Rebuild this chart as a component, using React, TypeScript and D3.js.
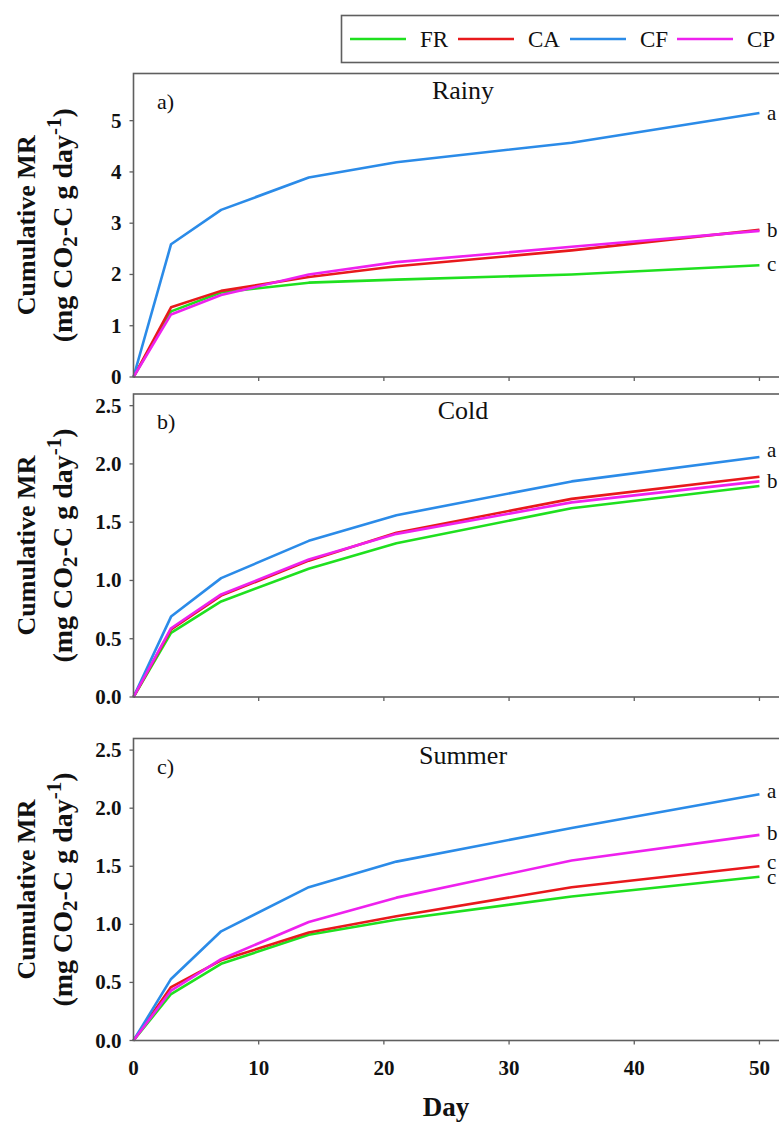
import React from "react";
import * as d3 from "d3";

const days = [0, 3, 7, 14, 21, 35, 50];
const seriesNames = ["FR", "CA", "CF", "CP"];
const seriesColors = ["#1fe01f", "#e8191c", "#2b8be8", "#ee21ee"];

// Rainy
const rainyFR = [0, 1.28, 1.65, 1.84, 1.9, 2.0, 2.18];
const rainyCA = [0, 1.36, 1.68, 1.95, 2.16, 2.47, 2.87];
const rainyCF = [0, 2.59, 3.26, 3.89, 4.19, 4.57, 5.15];
const rainyCP = [0, 1.22, 1.6, 2.0, 2.24, 2.54, 2.85];
// Cold
const coldFR = [0, 0.55, 0.82, 1.1, 1.32, 1.62, 1.81];
const coldCA = [0, 0.58, 0.87, 1.17, 1.41, 1.7, 1.89];
const coldCF = [0, 0.69, 1.02, 1.34, 1.56, 1.85, 2.06];
const coldCP = [0, 0.59, 0.88, 1.18, 1.4, 1.67, 1.85];
// Summer
const summerFR = [0, 0.4, 0.66, 0.91, 1.04, 1.24, 1.41];
const summerCA = [0, 0.46, 0.69, 0.93, 1.07, 1.32, 1.5];
const summerCF = [0, 0.53, 0.94, 1.32, 1.54, 1.83, 2.12];
const summerCP = [0, 0.43, 0.7, 1.02, 1.23, 1.55, 1.77];

const panelTitles = ["Rainy", "Cold", "Summer"];
const panelLetters = ["a)", "b)", "c)"];
const yMaxes = [5.92, 2.6, 2.6];
const yTicksA = [0, 1, 2, 3, 4, 5];
const yTicksBC = [0, 0.5, 1.0, 1.5, 2.0, 2.5];
const xTicks = [0, 10, 20, 30, 40, 50];

const sigLettersA = ["a", "b", "c"];
const sigValuesA = [5.15, 2.86, 2.2];
const sigLettersB = ["a", "b"];
const sigValuesB = [2.12, 1.85];
const sigLettersC = ["a", "b", "c", "c"];
const sigValuesC = [2.15, 1.79, 1.54, 1.41];

const panelData = [
  [rainyFR, rainyCA, rainyCF, rainyCP],
  [coldFR, coldCA, coldCF, coldCP],
  [summerFR, summerCA, summerCF, summerCP],
];
const panelSig = [
  [sigLettersA, sigValuesA],
  [sigLettersB, sigValuesB],
  [sigLettersC, sigValuesC],
];

const W = 779;
const H = 1122;
const plotLeft = 133.5;
const plotRight = 792;
const panelTops = [73.5, 394, 738.5];
const panelBottoms = [377, 697, 1040.5];
const frameColor = "#5f5f5f";
const serif = "'Liberation Serif', 'Times New Roman', serif";

const x = d3.scaleLinear().domain([0, 52.6]).range([plotLeft, plotRight]);

function Panel({ idx }: { idx: number }) {
  const top = panelTops[idx];
  const bottom = panelBottoms[idx];
  const y = d3.scaleLinear().domain([0, yMaxes[idx]]).range([bottom, top]);
  const ticks = idx === 0 ? yTicksA : yTicksBC;
  const fmt = idx === 0 ? d3.format("d") : d3.format(".1f");
  const line = d3
    .line<number>()
    .x((_, i) => x(days[i]))
    .y((d) => y(d));
  const [letters, values] = panelSig[idx] as [string[], number[]];
  const midY = (top + bottom) / 2;
  return (
    <g>
      {panelData[idx].map((s, i) => (
        <path
          key={i}
          d={line(s) || ""}
          fill="none"
          stroke={seriesColors[i]}
          strokeWidth={2.6}
          strokeLinejoin="round"
        />
      ))}
      <rect
        x={plotLeft}
        y={top}
        width={plotRight - plotLeft}
        height={bottom - top}
        fill="none"
        stroke={frameColor}
        strokeWidth={1.6}
      />
      {ticks.map((t) => (
        <g key={t}>
          <line x1={plotLeft - 4} x2={plotLeft} y1={y(t)} y2={y(t)} stroke={frameColor} strokeWidth={1.3} />
          <text
            x={plotLeft - 12}
            y={y(t)}
            textAnchor="end"
            dominantBaseline="central"
            fontFamily={serif}
            fontWeight="bold"
            fontSize={21}
            fill="#111"
          >
            {fmt(t)}
          </text>
        </g>
      ))}
      {xTicks.slice(1).map((t) => (
        <line key={t} x1={x(t)} x2={x(t)} y1={bottom} y2={bottom + 4} stroke={frameColor} strokeWidth={1.3} />
      ))}
      <text x={157} y={top + 35} fontFamily={serif} fontSize={22} fill="#111">
        {panelLetters[idx]}
      </text>
      <text x={463} y={top + 25} textAnchor="middle" fontFamily={serif} fontSize={26} fill="#111">
        {panelTitles[idx]}
      </text>
      {letters.map((l, i) => (
        <text
          key={i}
          x={767}
          y={y(values[i])}
          dominantBaseline="central"
          fontFamily={serif}
          fontSize={21}
          fill="#111"
        >
          {l}
        </text>
      ))}
      <g fontFamily={serif} fontWeight="bold" fill="#111">
        <text transform={`translate(35,${midY}) rotate(-90)`} textAnchor="middle" fontSize={26}>
          Cumulative MR
        </text>
        <text transform={`translate(72,${midY}) rotate(-90)`} textAnchor="middle" fontSize={28}>
          (mg CO
          <tspan fontSize={21} dy={5}>2</tspan>
          <tspan dy={-5}>-C g day</tspan>
          <tspan fontSize={21} dy={-11}>-1</tspan>
          <tspan dy={11}>)</tspan>
        </text>
      </g>
    </g>
  );
}

export default function App() {
  const legendTop = 15.5;
  const legendBottom = 62.5;
  const legendY = 39;
  const legendLineStarts = [350, 458, 570, 677];
  return (
    <svg
      width={W}
      height={H}
      style={{ position: "absolute", left: 0, top: 0, background: "#fff" }}
    >
      <rect x={0} y={0} width={W} height={H} fill="#fff" />
      {[0, 1, 2].map((i) => (
        <Panel key={i} idx={i} />
      ))}
      {xTicks.map((t) => (
        <text
          key={t}
          x={x(t)}
          y={1075}
          textAnchor="middle"
          fontFamily={serif}
          fontWeight="bold"
          fontSize={21}
          fill="#111"
        >
          {t}
        </text>
      ))}
      <text x={446} y={1116} textAnchor="middle" fontFamily={serif} fontWeight="bold" fontSize={27} fill="#111">
        Day
      </text>
      <rect
        x={341.5}
        y={legendTop}
        width={470}
        height={legendBottom - legendTop}
        fill="#fff"
        stroke={frameColor}
        strokeWidth={1.6}
      />
      {seriesNames.map((n, i) => (
        <g key={n}>
          <line
            x1={legendLineStarts[i]}
            x2={legendLineStarts[i] + 56}
            y1={legendY}
            y2={legendY}
            stroke={seriesColors[i]}
            strokeWidth={2.6}
          />
          <text x={legendLineStarts[i] + 70} y={legendY} dominantBaseline="central" fontFamily={serif} fontSize={23} fill="#111">
            {n}
          </text>
        </g>
      ))}
    </svg>
  );
}
